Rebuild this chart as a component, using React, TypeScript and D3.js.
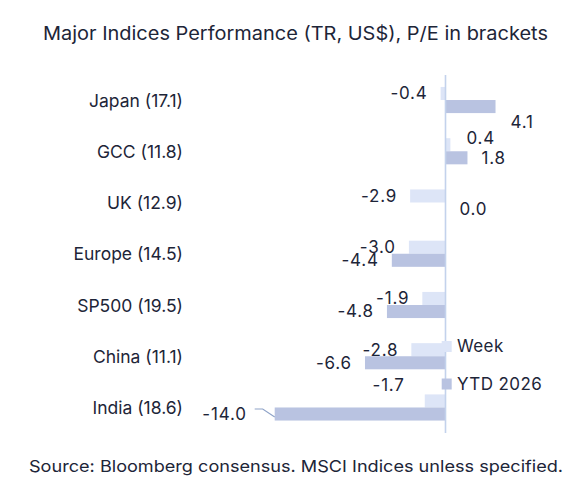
import React from "react";
import * as d3 from "d3";

const categories = ["Japan (17.1)", "GCC (11.8)", "UK (12.9)", "Europe (14.5)", "SP500 (19.5)", "China (11.1)", "India (18.6)"];
const weekValues = [-0.4, 0.4, -2.9, -3.0, -1.9, -2.8, -1.7];
const ytdValues = [4.1, 1.8, 0.0, -4.4, -4.8, -6.6, -14.0];
const seriesNames = ["Week", "YTD 2026"];
const title = "Major Indices Performance (TR, US$), P/E in brackets";
const source = "Source: Bloomberg consensus. MSCI Indices unless specified.";

// manual label nudges (dx, dy) like the original hand-placed labels
const weekNudge = [[0, 0], [2, -7], [0, 0], [0, 0], [0, 0], [0, 0], [-7, -16]];
const ytdNudge = [[1, 15], [0, 0], [0, 0], [0, 0], [0, 0], [0, 0], [-15, 0]];

const W = 584;
const H = 493;
const colors = ["#dde5f7", "#b9c3e1"];
const textColor = "#1d2538";
const axisColor = "#c3d2ec";
const font = "Inter, 'Open Sans', sans-serif";

export default function App() {
  const zeroX = 445.5;
  const ppu = 12.2;
  const x = d3.scaleLinear().domain([-15, 5]).range([zeroX - 15 * ppu, zeroX + 5 * ppu]);
  const y = d3.scaleBand<string>().domain(categories).range([74.4, 433.1]).paddingInner(0.49).paddingOuter(0.245);
  const inner = d3.scaleBand<string>().domain(seriesNames).range([0, y.bandwidth()]);
  const series = [weekValues, ytdValues];
  const nudges = [weekNudge, ytdNudge];
  const fmt = (v: number) => d3.format(".1f")(v).replace("\u2212", "-");

  return (
    <svg width={W} height={H} style={{ position: "absolute", left: 0, top: 0, background: "#fff" }} fontFamily={font}>
      <rect width={W} height={H} fill="#fff" />
      <text x={43} y={40} fontSize={18.5} fill={textColor} textLength={505} lengthAdjust="spacingAndGlyphs">{title}</text>
      {categories.map((c) => (
        <text key={c} x={183} y={(y(c) ?? 0) + y.bandwidth() / 2} dy="0.38em" textAnchor="end" fontSize={17.5} fill={textColor}>{c}</text>
      ))}
      {series.map((vals, si) =>
        vals.map((v, i) => {
          const c = categories[i];
          const by = (y(c) ?? 0) + (inner(seriesNames[si]) ?? 0);
          const bh = inner.bandwidth();
          return (
            <rect key={`b${si}-${i}`} x={Math.min(x(0), x(v))} y={by} width={Math.abs(x(v) - x(0))} height={bh} fill={colors[si]} />
          );
        })
      )}
      <line x1={x(0)} x2={x(0)} y1={75} y2={433} stroke={axisColor} strokeWidth={1.6} />
      {series.map((vals, si) =>
        vals.map((v, i) => {
          const c = categories[i];
          const by = (y(c) ?? 0) + (inner(seriesNames[si]) ?? 0) + inner.bandwidth() / 2;
          const [ndx, ndy] = nudges[si][i];
          const neg = v < 0;
          const lx = x(v) + (neg ? -13 : 14) + ndx;
          return (
            <text key={`l${si}-${i}`} x={lx} y={by + ndy} dy="0.35em" textAnchor={neg ? "end" : "start"} fontSize={17} letterSpacing={0.8} fill={textColor}>{fmt(v)}</text>
          );
        })
      )}
      {(() => {
        const i = ytdValues.length - 1;
        const v = ytdValues[i];
        const by = (y(categories[i]) ?? 0) + (inner(seriesNames[1]) ?? 0) + inner.bandwidth() / 2;
        const ex = x(v);
        return <polyline points={`${ex - 20},${by - 5} ${ex - 12},${by - 5} ${ex},${by + 3}`} fill="none" stroke="#8fa3c8" strokeWidth={1.2} />;
      })()}
      {seriesNames.map((s, si) => {
        const ly = si === 0 ? 346.5 : 384;
        return (
          <g key={s}>
            <rect x={441.7} y={ly - 5.5} width={10} height={11} fill={colors[si]} />
            <text x={457} y={ly} dy="0.35em" fontSize={17} letterSpacing={0.4} fill={textColor}>{s}</text>
          </g>
        );
      })}
      <text x={29} y={472} fontSize={16.5} fill={textColor} textLength={534} lengthAdjust="spacingAndGlyphs">{source}</text>
    </svg>
  );
}
